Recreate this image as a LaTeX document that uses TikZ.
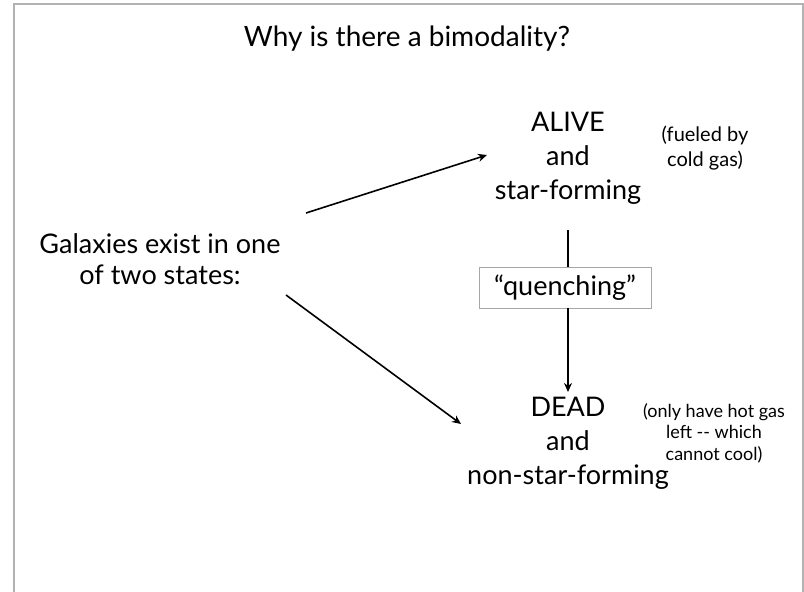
\documentclass[tikz,border=0pt]{standalone}
\usepackage{fontspec}
\setmainfont{Lato}
\usetikzlibrary{arrows.meta}
\begin{document}
\begin{tikzpicture}[x=1pt,y=-1pt,
  big/.style={font=\fontsize{27}{34}\selectfont, align=center, inner sep=0pt},
  conn/.style={line width=1.6pt, -{Stealth[length=9pt,width=8pt]}},
  plain/.style={line width=1.6pt}]
\useasboundingbox (0,0) rectangle (804,592);
\draw[gray!60, line width=1.5pt] (14,600) -- (14,4) -- (803,4) -- (803,600);
\node[big, font=\fontsize{28}{34}\selectfont] (title) at (407,39) {Why is there a bimodality?};
\node[big, font=\fontsize{27}{31}\selectfont] (gal) at (160,259) {Galaxies exist in one\\of two states:};
\node[big] (alive) at (568,158) {ALIVE\\and\\star-forming};
\node[font=\fontsize{20}{25}\selectfont, align=center, inner sep=0pt] (fuel) at (705,148) {(fueled by\\cold gas)};
\node[draw=gray!70, line width=0.8pt, minimum width=172pt, minimum height=41pt, inner sep=0pt,
  font=\fontsize{27}{30}\selectfont] (q) at (565,287.5) {“quenching”};
\node[big] (dead) at (568,443) {DEAD\\and\\non-star-forming};
\node[font=\fontsize{18}{21.5}\selectfont, align=center, inner sep=0pt] (hot) at (714,433) {(only have hot gas\\left -{}- which\\cannot cool)};
\coordinate (a1s) at (306,213);
\coordinate (a1e) at (487,155);
\coordinate (a2s) at (286,295);
\coordinate (a2e) at (461,424);
\coordinate (v1) at (568,230);
\coordinate (v2) at (568,392);
\draw[conn] (a1s) -- (a1e);
\draw[conn] (a2s) -- (a2e);
\draw[plain] (v1) -- (v1 |- q.north);
\draw[conn] (v1 |- q.south) -- (v2);
\end{tikzpicture}
\end{document}
